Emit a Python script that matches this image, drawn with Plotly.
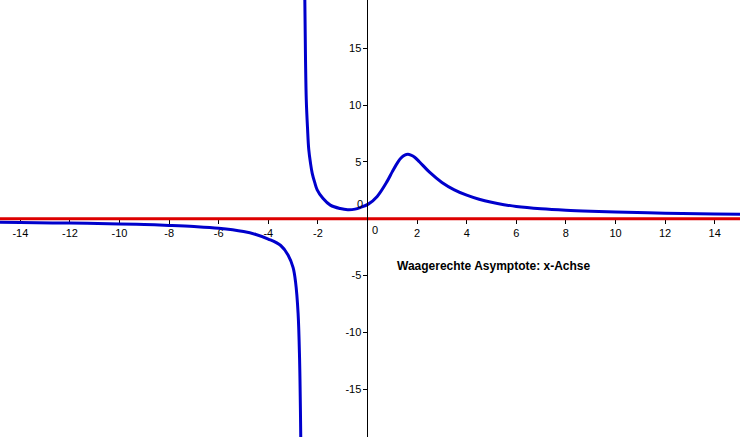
import plotly.graph_objects as go

# Left branch of the function (x < pole)
left_x = [-14.9, -14, -12, -10, -9, -8, -7, -6, -5, -4.5, -4.0, -3.5, -3.2, -3.0, -2.9, -2.8, -2.74, -2.69]
left_y = [-0.31, -0.33, -0.38, -0.45, -0.5, -0.58, -0.68, -0.83, -1.12, -1.38, -1.78, -2.35, -3.2, -4.3, -5.6, -8.3, -12.3, -19.6]

# Right branch of the function (x > pole)
right_x = [-2.53, -2.50, -2.47, -2.42, -2.37, -2.30, -2.23, -2.13, -2.03, -1.8, -1.5, -1.1, -0.8, -0.5, -0.28, 0.03,
           0.39, 0.79, 1.0, 1.2, 1.35, 1.5, 1.63, 1.75, 1.9, 2.1, 2.5, 3.0, 3.5, 4.0, 4.5, 5.0, 5.5, 6.0,
           7.0, 8.0, 9.0, 10.0, 12.0, 14.0, 15.1]
right_y = [19.6, 14.0, 10.5, 8.0, 6.1, 4.9, 4.0, 3.2, 2.55, 1.8, 1.2, 0.9, 0.8, 0.85, 1.0, 1.29,
           1.97, 3.29, 4.15, 4.9, 5.35, 5.6, 5.67, 5.6, 5.42, 5.0, 4.1, 3.2, 2.55, 2.08, 1.72, 1.45, 1.24, 1.08,
           0.88, 0.75, 0.66, 0.59, 0.49, 0.42, 0.39]

# Horizontal asymptote (x-axis)
asym_x = [-15, 15.1]
asym_y = [0, 0]

x_ticks = [-14, -12, -10, -8, -6, -4, -2, 2, 4, 6, 8, 10, 12, 14]
y_ticks = [-15, -10, -5, 5, 10, 15]

label_text = "Waagerechte Asymptote: x-Achse"

BLUE = "#0000cc"
RED = "#dd0000"
FONT = "Liberation Sans, Arial"

fig = go.Figure()
fig.add_trace(go.Scatter(x=asym_x, y=asym_y, mode="lines",
                         line=dict(color=RED, width=3), hoverinfo="skip"))
fig.add_trace(go.Scatter(x=left_x, y=left_y, mode="lines",
                         line=dict(color=BLUE, width=3, shape="spline", smoothing=1.0)))
fig.add_trace(go.Scatter(x=right_x, y=right_y, mode="lines",
                         line=dict(color=BLUE, width=3, shape="spline", smoothing=1.0)))

fig.add_annotation(x=1.11, y=-4.15, xref="x", yref="y", text="<b>" + label_text + "</b>",
                   showarrow=False, xanchor="left", yanchor="middle",
                   font=dict(family=FONT, size=12, color="black"))
# origin labels
fig.add_annotation(x=0.3, y=-0.95, xref="x", yref="y", text="0", showarrow=False,
                   xanchor="center", yanchor="middle",
                   font=dict(family=FONT, size=11, color="black"))
fig.add_annotation(x=-0.12, y=1.3, xref="x", yref="y", text="0", showarrow=False,
                   xanchor="right", yanchor="middle",
                   font=dict(family=FONT, size=11, color="black"))

fig.update_layout(
    width=740, height=437,
    margin=dict(l=0, r=0, t=0, b=0, pad=0, autoexpand=False),
    paper_bgcolor="white", plot_bgcolor="white",
    showlegend=False,
    font=dict(family=FONT, size=11, color="black"),
    xaxis=dict(range=[-14.82, 15.02], anchor="free", position=0.4993, automargin=False,
               tickvals=x_ticks, ticktext=[str(v) for v in x_ticks],
               ticks="outside", ticklen=4, tickcolor="black",
               showline=True, linecolor="black", linewidth=1, layer="below traces",
               showgrid=False, zeroline=False),
    yaxis=dict(range=[-19.2, 19.25], anchor="free", position=0.4966, automargin=False,
               tickvals=y_ticks, ticktext=[str(v) for v in y_ticks],
               ticks="outside", ticklen=4, tickcolor="black",
               showline=True, linecolor="black", linewidth=1,
               showgrid=False, zeroline=False),
)

fig.write_html("out.html", config={"displayModeBar": False},
               post_script="document.body.style.margin='0';document.body.style.overflow='hidden';")
